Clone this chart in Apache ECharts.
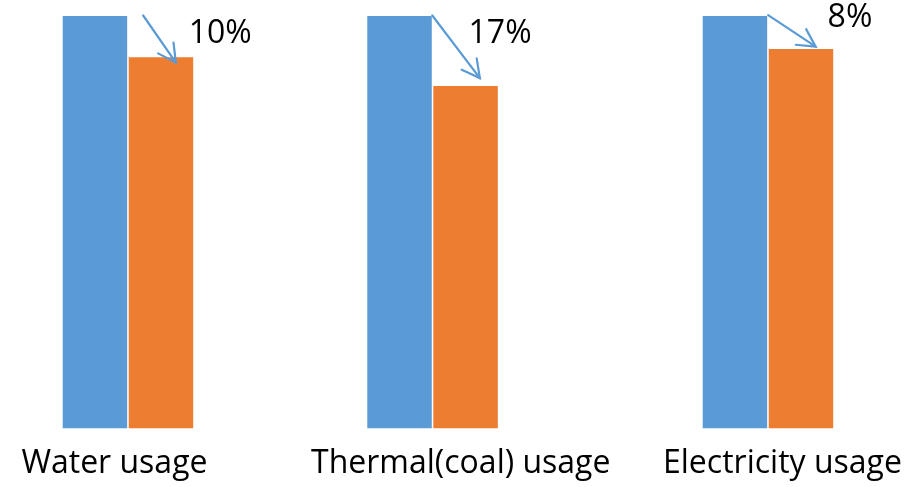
<!DOCTYPE html>
<html>
<head>
<meta charset="utf-8">
<script src="https://cdn.jsdelivr.net/npm/echarts@6/dist/echarts.min.js"></script>
<style>
html, body { margin: 0; padding: 0; background: #fff; }
#chart { width: 917px; height: 487px; }
</style>
</head>
<body>
<div id="chart"></div>
<script>
// ---- data ----
const categories = ['Water usage', 'Thermal(coal) usage', 'Electricity usage'];
const before = [100, 100, 100];
const after = [90, 83, 92];
const reductionLabels = ['10%', '17%', '8%'];

// ---- layout / style ----
const BLUE = '#5B9BD5';
const ORANGE = '#ED7D31';
const FONT = 'Open Sans';
const gridLefts = [62.7, 367.3, 702.7];
const gridWidth = 130.5;
const barWidth = 64.5;
const categoryLabelShift = [-13.5, 28.2, 14.5];
const pctLabelOffset = [[59.2, -7.3], [34.5, -36.5], [49, -15.2]];
const arrowStartNudge = [[16, -0.5], [0.5, -0.5], [1, -0.8]];
const arrowTipNudge = [[14.9, 5.3], [14.3, -8], [14.7, -2.3]];

const chart = echarts.init(document.getElementById('chart'), null, { renderer: 'canvas' });

const grids = [], xAxes = [], yAxes = [], series = [];
categories.forEach(function (cat, i) {
  grids.push({ left: gridLefts[i], width: gridWidth, top: 16, bottom: 58.7, containLabel: false });
  const s = categoryLabelShift[i];
  xAxes.push({
    type: 'category', gridIndex: i, data: [cat],
    axisLine: { show: false }, axisTick: { show: false }, splitLine: { show: false },
    axisLabel: {
      fontSize: 32, fontFamily: FONT, color: '#000', margin: 20, lineHeight: 32,
      padding: s < 0 ? [0, -2 * s, 0, 0] : [0, 0, 0, 2 * s]
    }
  });
  yAxes.push({ type: 'value', gridIndex: i, min: 0, max: 100, show: false });
  series.push({
    type: 'bar', xAxisIndex: i, yAxisIndex: i, data: [before[i]],
    barWidth: barWidth, barGap: '2.4%',
    itemStyle: { color: BLUE }, silent: true
  });
  series.push({
    type: 'bar', xAxisIndex: i, yAxisIndex: i,
    data: [{
      value: after[i],
      label: { offset: pctLabelOffset[i] }
    }],
    barWidth: barWidth, barGap: '2.4%',
    itemStyle: { color: ORANGE }, silent: true,
    label: {
      show: true, position: 'top', distance: 0,
      fontSize: 32, fontFamily: FONT, color: '#000', lineHeight: 32,
      formatter: function () { return reductionLabels[i]; }
    }
  });
});

chart.setOption({
  animation: false,
  backgroundColor: '#fff',
  grid: grids, xAxis: xAxes, yAxis: yAxes, series: series
});

// ---- arrows, placed from the bars' own layout ----
function barRect(seriesIndex) {
  const l = chart.getModel().getSeriesByIndex(seriesIndex).getData().getItemLayout(0);
  return { left: l.x, right: l.x + l.width, top: Math.min(l.y, l.y + l.height), cx: l.x + l.width / 2 };
}
const graphics = [];
const headLen = 20, headAng = 28 * Math.PI / 180;
categories.forEach(function (cat, i) {
  const b = barRect(2 * i), o = barRect(2 * i + 1);
  const x1 = b.right + arrowStartNudge[i][0], y1 = b.top + arrowStartNudge[i][1];
  const x2 = o.cx + arrowTipNudge[i][0], y2 = o.top + arrowTipNudge[i][1];
  const ang = Math.atan2(y1 - y2, x1 - x2);
  const a1 = [x2 + headLen * Math.cos(ang + headAng), y2 + headLen * Math.sin(ang + headAng)];
  const a2 = [x2 + headLen * Math.cos(ang - headAng), y2 + headLen * Math.sin(ang - headAng)];
  graphics.push({
    type: 'line', silent: true, z: 100,
    shape: { x1: x1, y1: y1, x2: x2, y2: y2 },
    style: { stroke: BLUE, lineWidth: 2.2, lineCap: 'round' }
  });
  graphics.push({
    type: 'polyline', silent: true, z: 100,
    shape: { points: [a1, [x2, y2], a2] },
    style: { stroke: BLUE, lineWidth: 2.2, fill: null, lineCap: 'round', lineJoin: 'miter' }
  });
});
chart.setOption({ graphic: graphics });
</script>
</body>
</html>
